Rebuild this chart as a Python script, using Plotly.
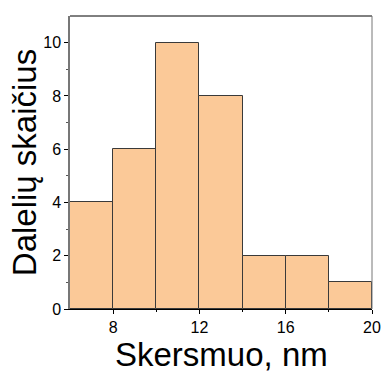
import plotly.graph_objects as go

bin_left = [6, 8, 10, 12, 14, 16, 18]
bin_width = 2
counts = [4, 6, 10, 8, 2, 2, 1]
x_ticks = [8, 12, 16, 20]
y_ticks = [0, 2, 4, 6, 8, 10]

centers = [b + bin_width / 2 for b in bin_left]

fig = go.Figure(go.Bar(
    x=centers, y=counts, width=bin_width,
    marker=dict(color="#FBC998", line=dict(color="#3a3a3a", width=1)),
))

font = "Liberation Sans, Arial, sans-serif"
fig.update_layout(
    width=382, height=372,
    margin=dict(l=70, r=10, t=16, b=63),
    paper_bgcolor="white", plot_bgcolor="white",
    showlegend=False, bargap=0,
    font=dict(family=font, color="black", size=16),
)
fig.update_xaxes(
    range=[6, 20], tickvals=x_ticks, ticks="outside", ticklen=4,
    tickcolor="black", tickfont=dict(size=16),
    showline=True, linecolor="black", linewidth=1, mirror=False,
    showgrid=False, zeroline=False, automargin=False,
    minor=dict(tickvals=[10, 14, 18], ticks="outside", ticklen=2, tickcolor="black"),
)
fig.update_yaxes(
    range=[0, 11], tickvals=y_ticks, ticks="outside", ticklen=4,
    tickcolor="black", tickfont=dict(size=16),
    showline=True, linecolor="#777777", linewidth=1.5,
    showgrid=False, zeroline=False, automargin=False,
    minor=dict(tickvals=[1, 3, 5, 7, 9], ticks="outside", ticklen=2, tickcolor="#555555"),
)
fig.add_annotation(text="Skersmuo, nm", xref="paper", yref="paper", x=0.5, y=-0.155,
                   xanchor="center", yanchor="middle", showarrow=False,
                   font=dict(size=33, family=font))
fig.add_annotation(text="Dalelių skaičius", xref="paper", yref="paper", x=-0.15, y=0.5,
                   xanchor="center", yanchor="middle", showarrow=False, textangle=-90,
                   font=dict(size=33, family=font))
# top and right borders
fig.add_shape(type="line", xref="paper", yref="paper", x0=0, x1=1, y0=1, y1=1,
              line=dict(color="black", width=1))
fig.add_shape(type="line", xref="paper", yref="paper", x0=1, x1=1, y0=0, y1=1,
              line=dict(color="#777777", width=1))

fig.write_html("out.html", config={"displayModeBar": False},
               post_script="document.body.style.margin='0';document.body.style.overflow='hidden';")
